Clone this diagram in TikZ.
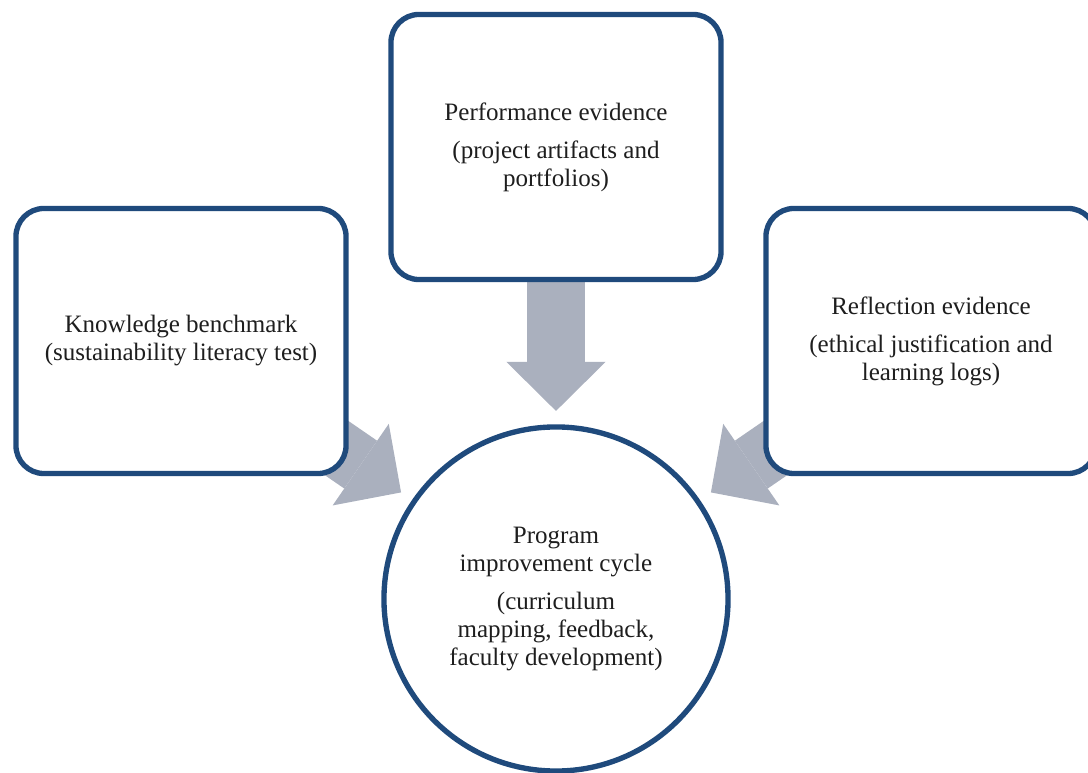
\documentclass[tikz,border=0pt]{standalone}
\usepackage{fontspec}
\setmainfont{Liberation Serif}
\usetikzlibrary{arrows.meta, calc, backgrounds}
\definecolor{boxblue}{HTML}{1F4A7C}
\definecolor{arrowgray}{HTML}{AAB0BE}
\definecolor{textgray}{HTML}{1E1E1E}

\begin{document}
\begin{tikzpicture}[x=0.025cm, y=-0.025cm,
    stage/.style={draw=boxblue, line width=3.8pt, fill=white, rounded corners=0.7cm,
      minimum width=8.25cm, minimum height=6.625cm, align=center, text=textgray,
      font=\fontsize{17.8}{19.9}\selectfont},
    hub/.style={stage, circle, rounded corners=0pt, minimum size=8.6cm},
    feed/.style={draw=arrowgray, line width=1.45cm,
      -{Triangle[length=1.225cm, width=2.475cm, line width=0pt]}}]
      \useasboundingbox (0,0) rectangle (1088,773);

      \node [stage] (know) at (181,341) {Knowledge benchmark\\(sustainability literacy test)};
      \node [stage] (perf) at (556,147) {Performance evidence\\[7pt](project artifacts and\\portfolios)};
      \node [stage] (refl) at (931,341) {Reflection evidence\\[7pt](ethical justification and\\learning logs)};
      \node [hub] (cycle) at (556,599) {Program\\improvement cycle\\[7pt](curriculum\\mapping, feedback,\\faculty development)};

      \begin{scope}[on background layer]
        \draw [feed] (know.center) -- ($(cycle.center)!4.7cm!(know.center)$);
        \draw [feed] (perf.center) -- ($(cycle.center)!4.7cm!(perf.center)$);
        \draw [feed] (refl.center) -- ($(cycle.center)!4.7cm!(refl.center)$);
      \end{scope}
    \end{tikzpicture}
\end{document}
